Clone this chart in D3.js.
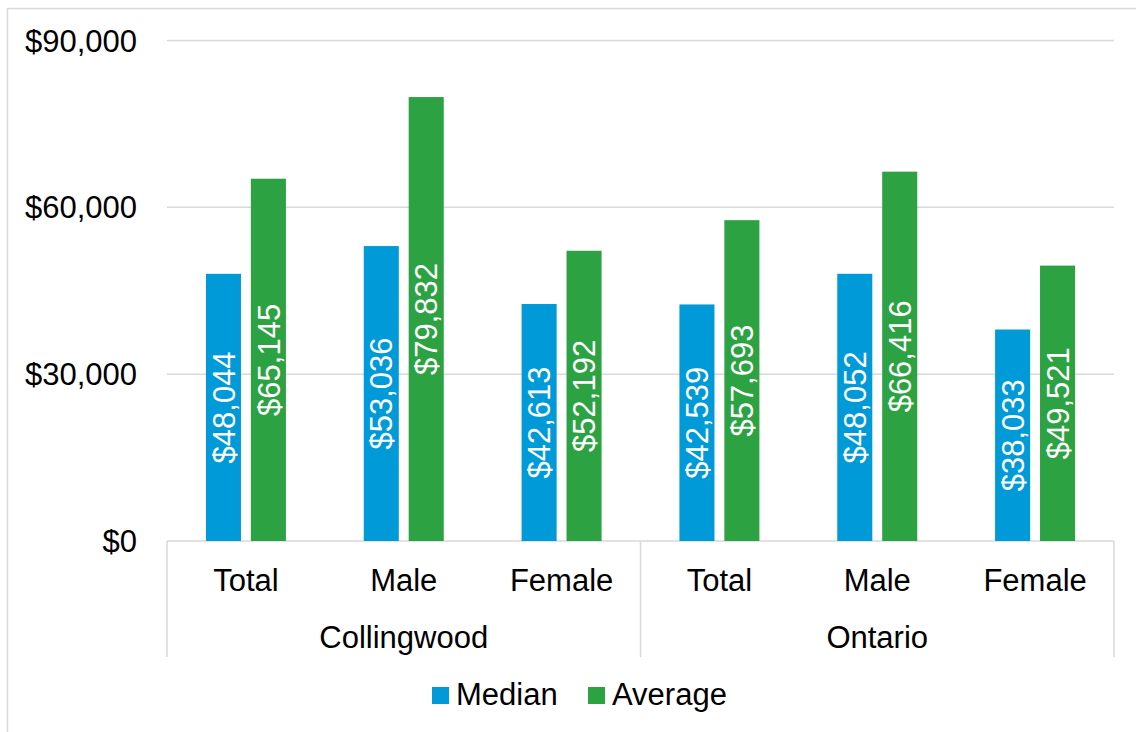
<!DOCTYPE html>
<html>
<head>
<meta charset="utf-8">
<script src="https://cdn.jsdelivr.net/npm/d3@7"></script>
<style>
  body { margin: 0; background: #fff; }
  svg { display: block; font-family: "Liberation Sans", Arial, sans-serif; }
</style>
</head>
<body>
<div id="chart"></div>
<script>
// chart data
const groups = ['Collingwood', 'Ontario'];
const categories = ['Total', 'Male', 'Female'];
const seriesNames = ['Median', 'Average'];
const medianValues = [48044, 53036, 42613, 42539, 48052, 38033];
const averageValues = [65145, 79832, 52192, 57693, 66416, 49521];
const yTicks = [0, 30000, 60000, 90000];
const colors = ['#009ad9', '#2ca243'];

const width = 1136, height = 732;
const plot = { left: 167, right: 1114, top: 40.5, bottom: 541 };

const svg = d3.select('#chart').append('svg')
    .attr('width', width)
    .attr('height', height);

// outer border (clipped at right/bottom like the original)
svg.append('rect')
    .attr('x', 7.5).attr('y', 8.5)
    .attr('width', 1140).attr('height', 740)
    .attr('fill', 'none')
    .attr('stroke', '#d9d9d9')
    .attr('stroke-width', 1.5);

// rows: one per bar category
const rows = [];
groups.forEach((g, gi) => {
    categories.forEach((c, ci) => {
        const i = gi * categories.length + ci;
        rows.push({ key: g + '|' + c, group: g, cat: c, values: [medianValues[i], averageValues[i]] });
    });
});

const x0 = d3.scaleBand()
    .domain(rows.map(d => d.key))
    .range([plot.left, plot.right])
    .padding(0);

const bw = x0.bandwidth();
const x1 = d3.scaleBand()
    .domain(seriesNames)
    .range([bw / 2 - 40, bw / 2 + 40])
    .paddingInner(0.22);

const y = d3.scaleLinear()
    .domain([0, 90000])
    .range([plot.bottom, plot.top]);

// gridlines
svg.append('g')
    .selectAll('line')
    .data(yTicks)
    .join('line')
    .attr('x1', plot.left).attr('x2', plot.right)
    .attr('y1', d => y(d)).attr('y2', d => y(d))
    .attr('stroke', '#d9d9d9')
    .attr('stroke-width', 1.5);

// y tick labels
const fmt = d3.format('$,.0f');
svg.append('g')
    .selectAll('text')
    .data(yTicks)
    .join('text')
    .attr('x', 137)
    .attr('y', d => y(d))
    .attr('dy', '0.36em')
    .attr('text-anchor', 'end')
    .attr('font-size', 31)
    .attr('fill', '#000')
    .text(d => fmt(d));

// bars
const barG = svg.append('g')
    .selectAll('g')
    .data(rows)
    .join('g')
    .attr('transform', d => `translate(${x0(d.key)},0)`);

const cells = barG.selectAll('g')
    .data(d => d.values.map((v, i) => ({ series: seriesNames[i], value: v, idx: i })))
    .join('g');

cells.append('rect')
    .attr('x', d => x1(d.series))
    .attr('y', d => y(d.value))
    .attr('width', x1.bandwidth())
    .attr('height', d => y(0) - y(d.value))
    .attr('fill', d => colors[d.idx]);

// value labels, rotated, centred in bar
cells.append('text')
    .attr('transform', d => {
        const cx = x1(d.series) + x1.bandwidth() / 2;
        const cy = (y(d.value) + y(0)) / 2;
        return `translate(${cx},${cy}) rotate(-90)`;
    })
    .attr('text-anchor', 'middle')
    .attr('dy', '0.36em')
    .attr('font-size', 31)
    .attr('fill', '#fff')
    .text(d => fmt(d.value));

// category axis separators
const sepX = [plot.left, x0(rows[3].key), plot.right];
svg.append('g')
    .selectAll('line')
    .data(sepX)
    .join('line')
    .attr('x1', d => d).attr('x2', d => d)
    .attr('y1', plot.bottom).attr('y2', 657)
    .attr('stroke', '#d9d9d9')
    .attr('stroke-width', 1.5);

// category labels
svg.append('g')
    .selectAll('text')
    .data(rows)
    .join('text')
    .attr('x', d => x0(d.key) + bw / 2)
    .attr('y', 591)
    .attr('text-anchor', 'middle')
    .attr('font-size', 31)
    .attr('fill', '#000')
    .text(d => d.cat);

// group labels
svg.append('g')
    .selectAll('text')
    .data(groups)
    .join('text')
    .attr('x', (g, gi) => (x0(rows[gi * 3].key) + x0(rows[gi * 3 + 2].key) + bw) / 2)
    .attr('y', 648)
    .attr('text-anchor', 'middle')
    .attr('font-size', 31)
    .attr('fill', '#000')
    .text(d => d);

// legend
const legendX = [432, 588];
const legend = svg.append('g')
    .selectAll('g')
    .data(seriesNames)
    .join('g')
    .attr('transform', (d, i) => `translate(${legendX[i]},687)`);

legend.append('rect')
    .attr('width', 17).attr('height', 17)
    .attr('fill', (d, i) => colors[i]);

legend.append('text')
    .attr('x', 24)
    .attr('y', 18)
    .attr('font-size', 31)
    .attr('fill', '#000')
    .text(d => d);
</script>
</body>
</html>
